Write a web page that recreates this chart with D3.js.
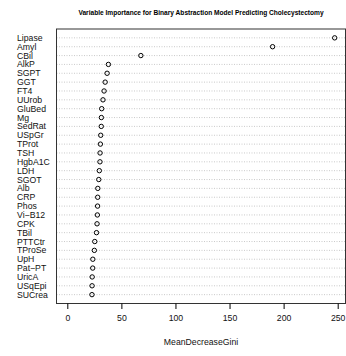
<!DOCTYPE html>
<html><head><meta charset="utf-8">
<script src="https://cdn.jsdelivr.net/npm/d3@7"></script>
<style>body{margin:0;background:#fff}svg{display:block}text{font-family:"Liberation Sans",Arial,sans-serif}</style>
</head><body><svg id="c" width="346" height="356"></svg>
<script>
const variables = ["Lipase","Amyl","CBil","AlkP","SGPT","GGT","FT4","UUrob","GluBed","Mg","SedRat","USpGr","TProt","TSH","HgbA1C","LDH","SGOT","Alb","CRP","Phos","Vi\u2212B12","CPK","TBil","PTTCtr","TProSe","UpH","Pat\u2212PT","UricA","USqEpi","SUCrea"];
const gini = [247.2,189.8,68,38,36.8,35,34,33,31.8,31.5,31.4,30.9,30.6,30.3,30.2,29.6,29.1,28.2,28.1,28.0,27.8,27.5,27,25.4,25,23.6,23.5,23,22.9,22.8];
const xTicks = [0,50,100,150,200,250];
const title = "Variable Importance for Binary Abstraction Model Predicting Cholecystectomy";
const xTitle = "MeanDecreaseGini";

const svg = d3.select("#c");
const L = 56.5, R = 345.5, T = 29, B = 303.5;
const x = d3.scaleLinear().domain([0,250]).range([67.3,337.7]);
const n = variables.length;
const y = d3.scaleLinear().domain([0, n+1]).range([B, T]);

// dotted guide lines
svg.append("g").selectAll("line").data(variables).join("line")
  .attr("x1", L).attr("x2", R)
  .attr("y1", (d,i)=>y(n-i)).attr("y2", (d,i)=>y(n-i))
  .attr("stroke","#bdbdbd").attr("stroke-width",0.8).attr("stroke-dasharray","1,1.5");

// labels
svg.append("g").selectAll("text").data(variables).join("text")
  .attr("x", 17).attr("y", (d,i)=>y(n-i)).attr("dy","0.35em")
  .attr("font-size","8.7px").attr("fill","#111").text(d=>d);

// points
svg.append("g").selectAll("circle").data(gini).join("circle")
  .attr("cx", d=>x(d)).attr("cy", (d,i)=>y(n-i)).attr("r",2.2)
  .attr("fill","none").attr("stroke","#000").attr("stroke-width",1);

// box
svg.append("rect").attr("x",L).attr("y",T).attr("width",R-L).attr("height",B-T)
  .attr("fill","none").attr("stroke","#333").attr("stroke-width",1);

// x axis
const ax = svg.append("g").attr("transform",`translate(0,${B})`)
  .call(d3.axisBottom(x).tickValues(xTicks).tickSize(5.5).tickPadding(6).tickFormat(d3.format("d")));
ax.select(".domain").remove();
ax.selectAll("line").attr("stroke","#000");
ax.selectAll("text").attr("font-size","8.7px").attr("font-family","Liberation Sans, Arial, sans-serif").attr("fill","#111");

svg.append("text").attr("x",(L+R)/2).attr("y",342).attr("dy","0.35em").attr("text-anchor","middle")
  .attr("font-size","8.7px").attr("fill","#111").text(xTitle);

svg.append("text").attr("x",(L+R)/2).attr("y",13).attr("dy","0.35em").attr("text-anchor","middle")
  .attr("font-size","6.6px").attr("font-weight","bold").attr("fill","#000").text(title);
</script></body></html>
